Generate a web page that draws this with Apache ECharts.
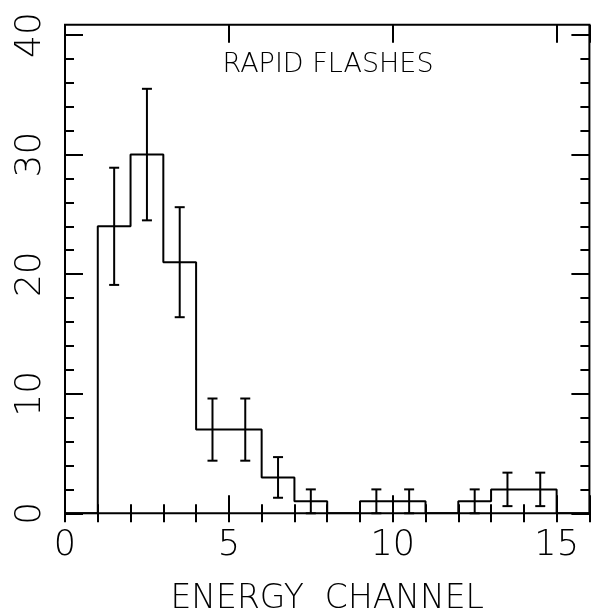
<!DOCTYPE html>
<html>
<head>
<meta charset="utf-8">
<script src="https://cdn.jsdelivr.net/npm/echarts@6/dist/echarts.min.js"></script>
<style>
html,body{margin:0;padding:0;background:#fff;}
#chart{width:591px;height:612px;}
</style>
</head>
<body>
<div id="chart"></div>
<script>
// Histogram bins (left edges) and counts
const binLeft = [0,1,2,3,4,5,6,7,8,9,10,11,12,13,14,15];
const counts  = [0,24,30,21,7,7,3,1,0,1,1,0,1,2,2,0];
const errors  = [0,4.9,5.5,4.6,2.6,2.6,1.7,1,0,1,1,0,1,1.4,1.4,0];
const binWidth = 1;
const xTicks = [0,5,10,15];
const yTicks = [0,10,20,30,40];
const titleText = 'RAPID FLASHES';
const xTitle = 'ENERGY  CHANNEL';

const FONT = 'DejaVu Sans';
const stepData = binLeft.map((x,i)=>[x,counts[i]]);
stepData.push([binLeft[binLeft.length-1]+binWidth, counts[counts.length-1]]);
const errData = [];
binLeft.forEach((x,i)=>{ if(errors[i]>0) errData.push([x+binWidth/2, counts[i]-errors[i], counts[i]+errors[i]]); });

const G = {left:65, right:1.6, bottom:98.7};
const tickLine = {color:'#000', width:2};

function xAx(grid, pos, interval, len, labels){
  return {type:'value', gridIndex:grid, position:pos, min:0, max:16, interval:interval,
    axisLine:{show:false}, splitLine:{show:false},
    axisTick:{show:true, inside:true, length:len, lineStyle:tickLine},
    axisLabel:{show:labels, margin:15, color:'#000', fontFamily:FONT, fontSize:35, fontWeight:200,
      formatter:v=>xTicks.indexOf(v)>=0?String(v):''},
    name: labels?xTitle:'', nameLocation:'middle', nameGap:70,
    nameTextStyle:{color:'#000', fontFamily:FONT, fontSize:33, fontWeight:200}};
}
function yAx(grid, pos, interval, len, labels){
  return {type:'value', gridIndex:grid, position:pos, min:0, max:40, interval:interval,
    axisLine:{show:false}, splitLine:{show:false},
    axisTick:{show:true, inside:true, length:len, lineStyle:tickLine},
    axisLabel:{show:labels, rotate:90, margin:16, color:'#000', fontFamily:FONT, fontSize:36, fontWeight:200,
      formatter:v=>yTicks.indexOf(v)>=0?String(v):''}};
}

const chart = echarts.init(document.getElementById('chart'), null, {renderer:'canvas'});
chart.setOption({
  animation:false,
  backgroundColor:'#fff',
  grid:[
    {left:G.left, right:G.right, bottom:G.bottom, top:35, show:false, containLabel:false, outerBoundsMode:'none'},
    {left:G.left, right:G.right, bottom:G.bottom, top:24.7, show:true, borderColor:'#000', borderWidth:2, backgroundColor:'transparent', containLabel:false, outerBoundsMode:'none'}
  ],
  xAxis:[
    xAx(0,'bottom',1,9,false),
    xAx(0,'bottom',5,18,true),
    xAx(1,'top',1,9,false),
    xAx(1,'top',5,18,false)
  ],
  yAxis:[
    yAx(0,'left',2,9,false),
    yAx(0,'left',10,18,true),
    yAx(0,'right',2,9,false),
    yAx(0,'right',10,18,false),
    {type:'value', gridIndex:1, show:false, min:0, max:1}
  ],
  graphic:[{type:'text', x:328, y:65, style:{text:titleText, fill:'#000', font:'200 27px "'+FONT+'"', textAlign:'center', textVerticalAlign:'middle'}}],
  series:[
    {type:'line', xAxisIndex:0, yAxisIndex:0, step:'end', data:stepData, symbol:'none',
      lineStyle:{color:'#000', width:2}, z:3},
    {type:'custom', xAxisIndex:0, yAxisIndex:0, data:errData, z:4,
      renderItem:function(params, api){
        const x = api.value(0);
        const lo = api.coord([x, api.value(1)]);
        const hi = api.coord([x, api.value(2)]);
        const cap = 5;
        const st = {stroke:'#000', lineWidth:2};
        return {type:'group', children:[
          {type:'line', shape:{x1:lo[0], y1:lo[1], x2:hi[0], y2:hi[1]}, style:st},
          {type:'line', shape:{x1:lo[0]-cap, y1:lo[1], x2:lo[0]+cap, y2:lo[1]}, style:st},
          {type:'line', shape:{x1:hi[0]-cap, y1:hi[1], x2:hi[0]+cap, y2:hi[1]}, style:st}
        ]};
      }}
  ]
});
</script>
</body>
</html>
